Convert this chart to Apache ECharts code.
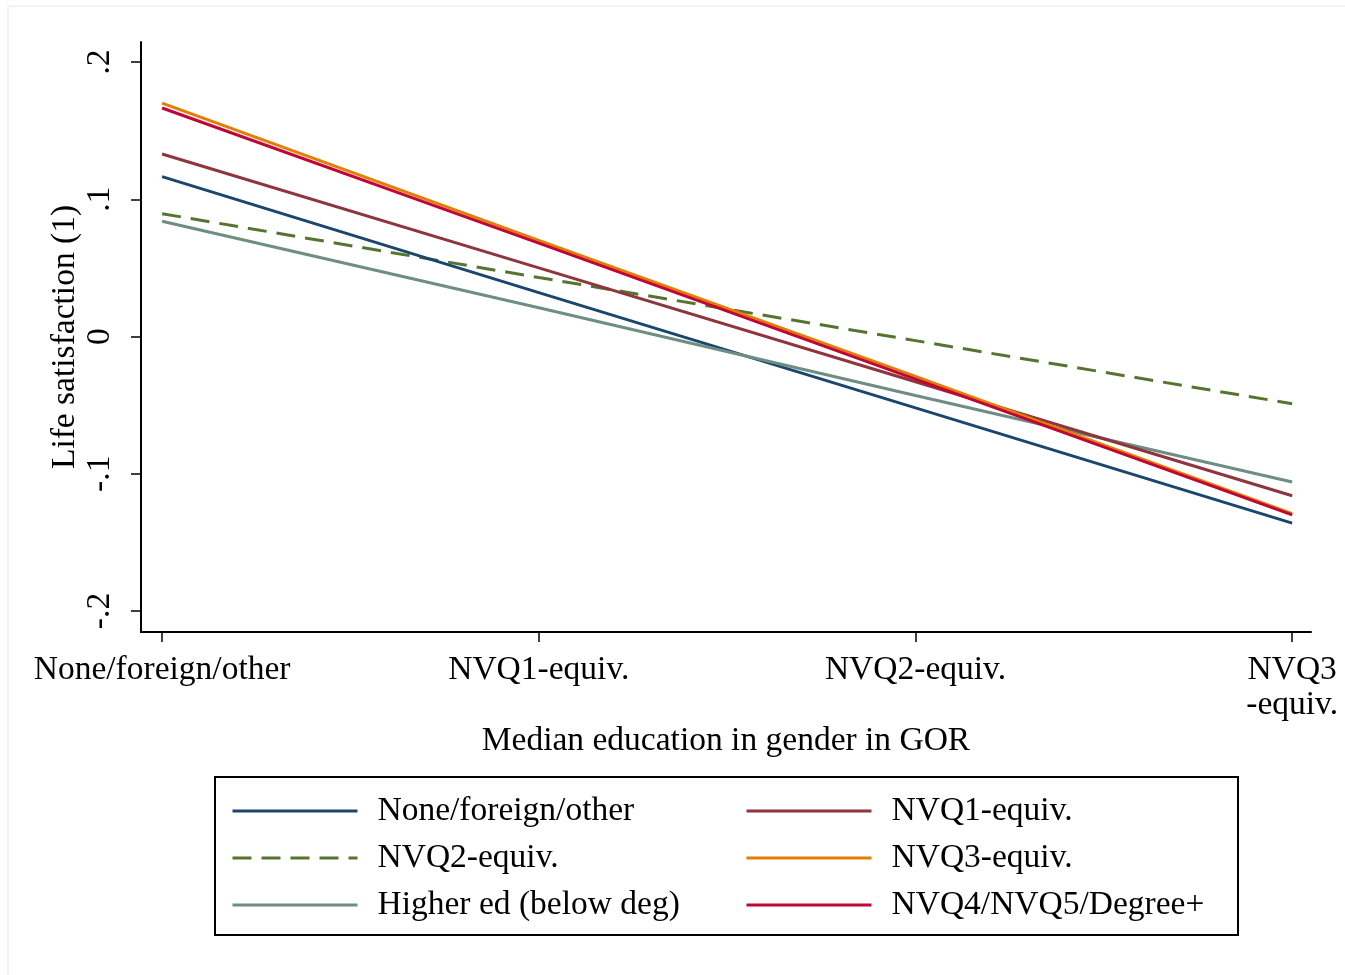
<!DOCTYPE html>
<html>
<head>
<meta charset="utf-8">
<script src="https://cdn.jsdelivr.net/npm/echarts@6/dist/echarts.min.js"></script>
<style>html,body{margin:0;padding:0;background:#fff}#c{width:1345px;height:975px}</style>
</head>
<body>
<div id="c"></div>
<script>
// x positions (category index) and labels
const categories = ['None/foreign/other', 'NVQ1-equiv.', 'NVQ2-equiv.', 'NVQ3\n-equiv.'];
const yTicks = [-0.2, -0.1, 0, 0.1, 0.2];
const yTickLabels = ['-.2', '-.1', '0', '.1', '.2'];

const seriesNames = ['None/foreign/other', 'NVQ1-equiv.', 'NVQ2-equiv.', 'NVQ3-equiv.', 'Higher ed (below deg)', 'NVQ4/NVQ5/Degree+'];
const noneForeign = [0.1165, 0.032, -0.052, -0.136];
const nvq1 = [0.133, 0.050, -0.033, -0.116];
const nvq2 = [0.0895, 0.043, -0.003, -0.049];
const nvq3 = [0.170, 0.070, -0.029, -0.129];
const higherEd = [0.084, 0.021, -0.043, -0.106];
const nvq4 = [0.1665, 0.068, -0.031, -0.130];

const colors = ['#1a476f', '#90353b', '#55752f', '#e37e00', '#6e8e84', '#c10534'];
const dataSets = [noneForeign, nvq1, nvq2, nvq3, higherEd, nvq4];

const font = 'Liberation Serif';
const fs = 33.5;

const series = dataSets.map((d, i) => ({
  name: seriesNames[i],
  type: 'line',
  symbol: 'none',
  data: d.map((v, j) => [j, v]),
  z: [2,3,1,5,2,6][i],
  lineStyle: {
    color: colors[i],
    width: 3,
    type: i === 2 ? [19, 10] : 'solid'
  },
  itemStyle: { color: colors[i] }
}));

const legendCommon = {
  orient: 'vertical', top: 794, padding: 0,
  itemWidth: 125, itemHeight: 20, itemGap: 13,
  itemStyle: { opacity: 0 },
  lineStyle: { width: 3 },
  textStyle: { fontFamily: font, fontSize: fs, color: '#000', padding: [0, 0, 0, 15] },
  selectedMode: false
};

const chart = echarts.init(document.getElementById('c'), null, { renderer: 'canvas' });
chart.setOption({
  backgroundColor: '#fff',
  animation: false,
  grid: { left: 141, right: 34, top: 42, bottom: 343, containLabel: false },
  xAxis: {
    type: 'value',
    min: -0.056,
    max: 3.05,
    name: 'Median education in gender in GOR',
    nameLocation: 'middle',
    nameGap: 92,
    nameMoveOverlap: false,
    nameTextStyle: { fontFamily: font, fontSize: fs, color: '#000' },
    splitLine: { show: false },
    axisLine: { show: true, onZero: false, lineStyle: { color: '#000', width: 2 } },
    axisTick: { show: true, length: 10, lineStyle: { color: '#000', width: 1.5 }, customValues: [0, 1, 2, 3] },
    axisLabel: {
      customValues: [0, 1, 2, 3],
      formatter: v => categories[Math.round(v)],
      fontFamily: font, fontSize: fs, color: '#000', margin: 21, lineHeight: 35
    }
  },
  yAxis: {
    type: 'value',
    min: -0.2153,
    max: 0.2146,
    name: 'Life satisfaction (1)',
    nameLocation: 'middle',
    nameGap: 59,
    nameMoveOverlap: false,
    nameRotate: 90,
    nameTextStyle: { fontFamily: font, fontSize: fs, color: '#000' },
    splitLine: { show: false },
    axisLine: { show: true, onZero: false, lineStyle: { color: '#000', width: 2 } },
    axisTick: { show: true, length: 10, lineStyle: { color: '#000', width: 1.5 }, customValues: yTicks },
    axisLabel: {
      customValues: yTicks,
      rotate: 90,
      formatter: v => yTickLabels[yTicks.findIndex(t => Math.abs(t - v) < 1e-6)],
      fontFamily: font, fontSize: fs, color: '#000', margin: 24
    }
  },
  legend: [
    Object.assign({ left: 231, data: [seriesNames[0], seriesNames[2], seriesNames[4]] }, legendCommon),
    Object.assign({ left: 745, data: [seriesNames[1], seriesNames[3], seriesNames[5]] }, legendCommon)
  ],
  graphic: [
    { type: 'rect', shape: { x: 8, y: 6, width: 1345, height: 975 }, style: { fill: null, stroke: '#eef2f4', lineWidth: 1.5 }, silent: true },
    { type: 'rect', shape: { x: 215, y: 777, width: 1023, height: 158 }, style: { fill: null, stroke: '#000', lineWidth: 2 }, silent: true }
  ],
  series: series
});
</script>
</body>
</html>
